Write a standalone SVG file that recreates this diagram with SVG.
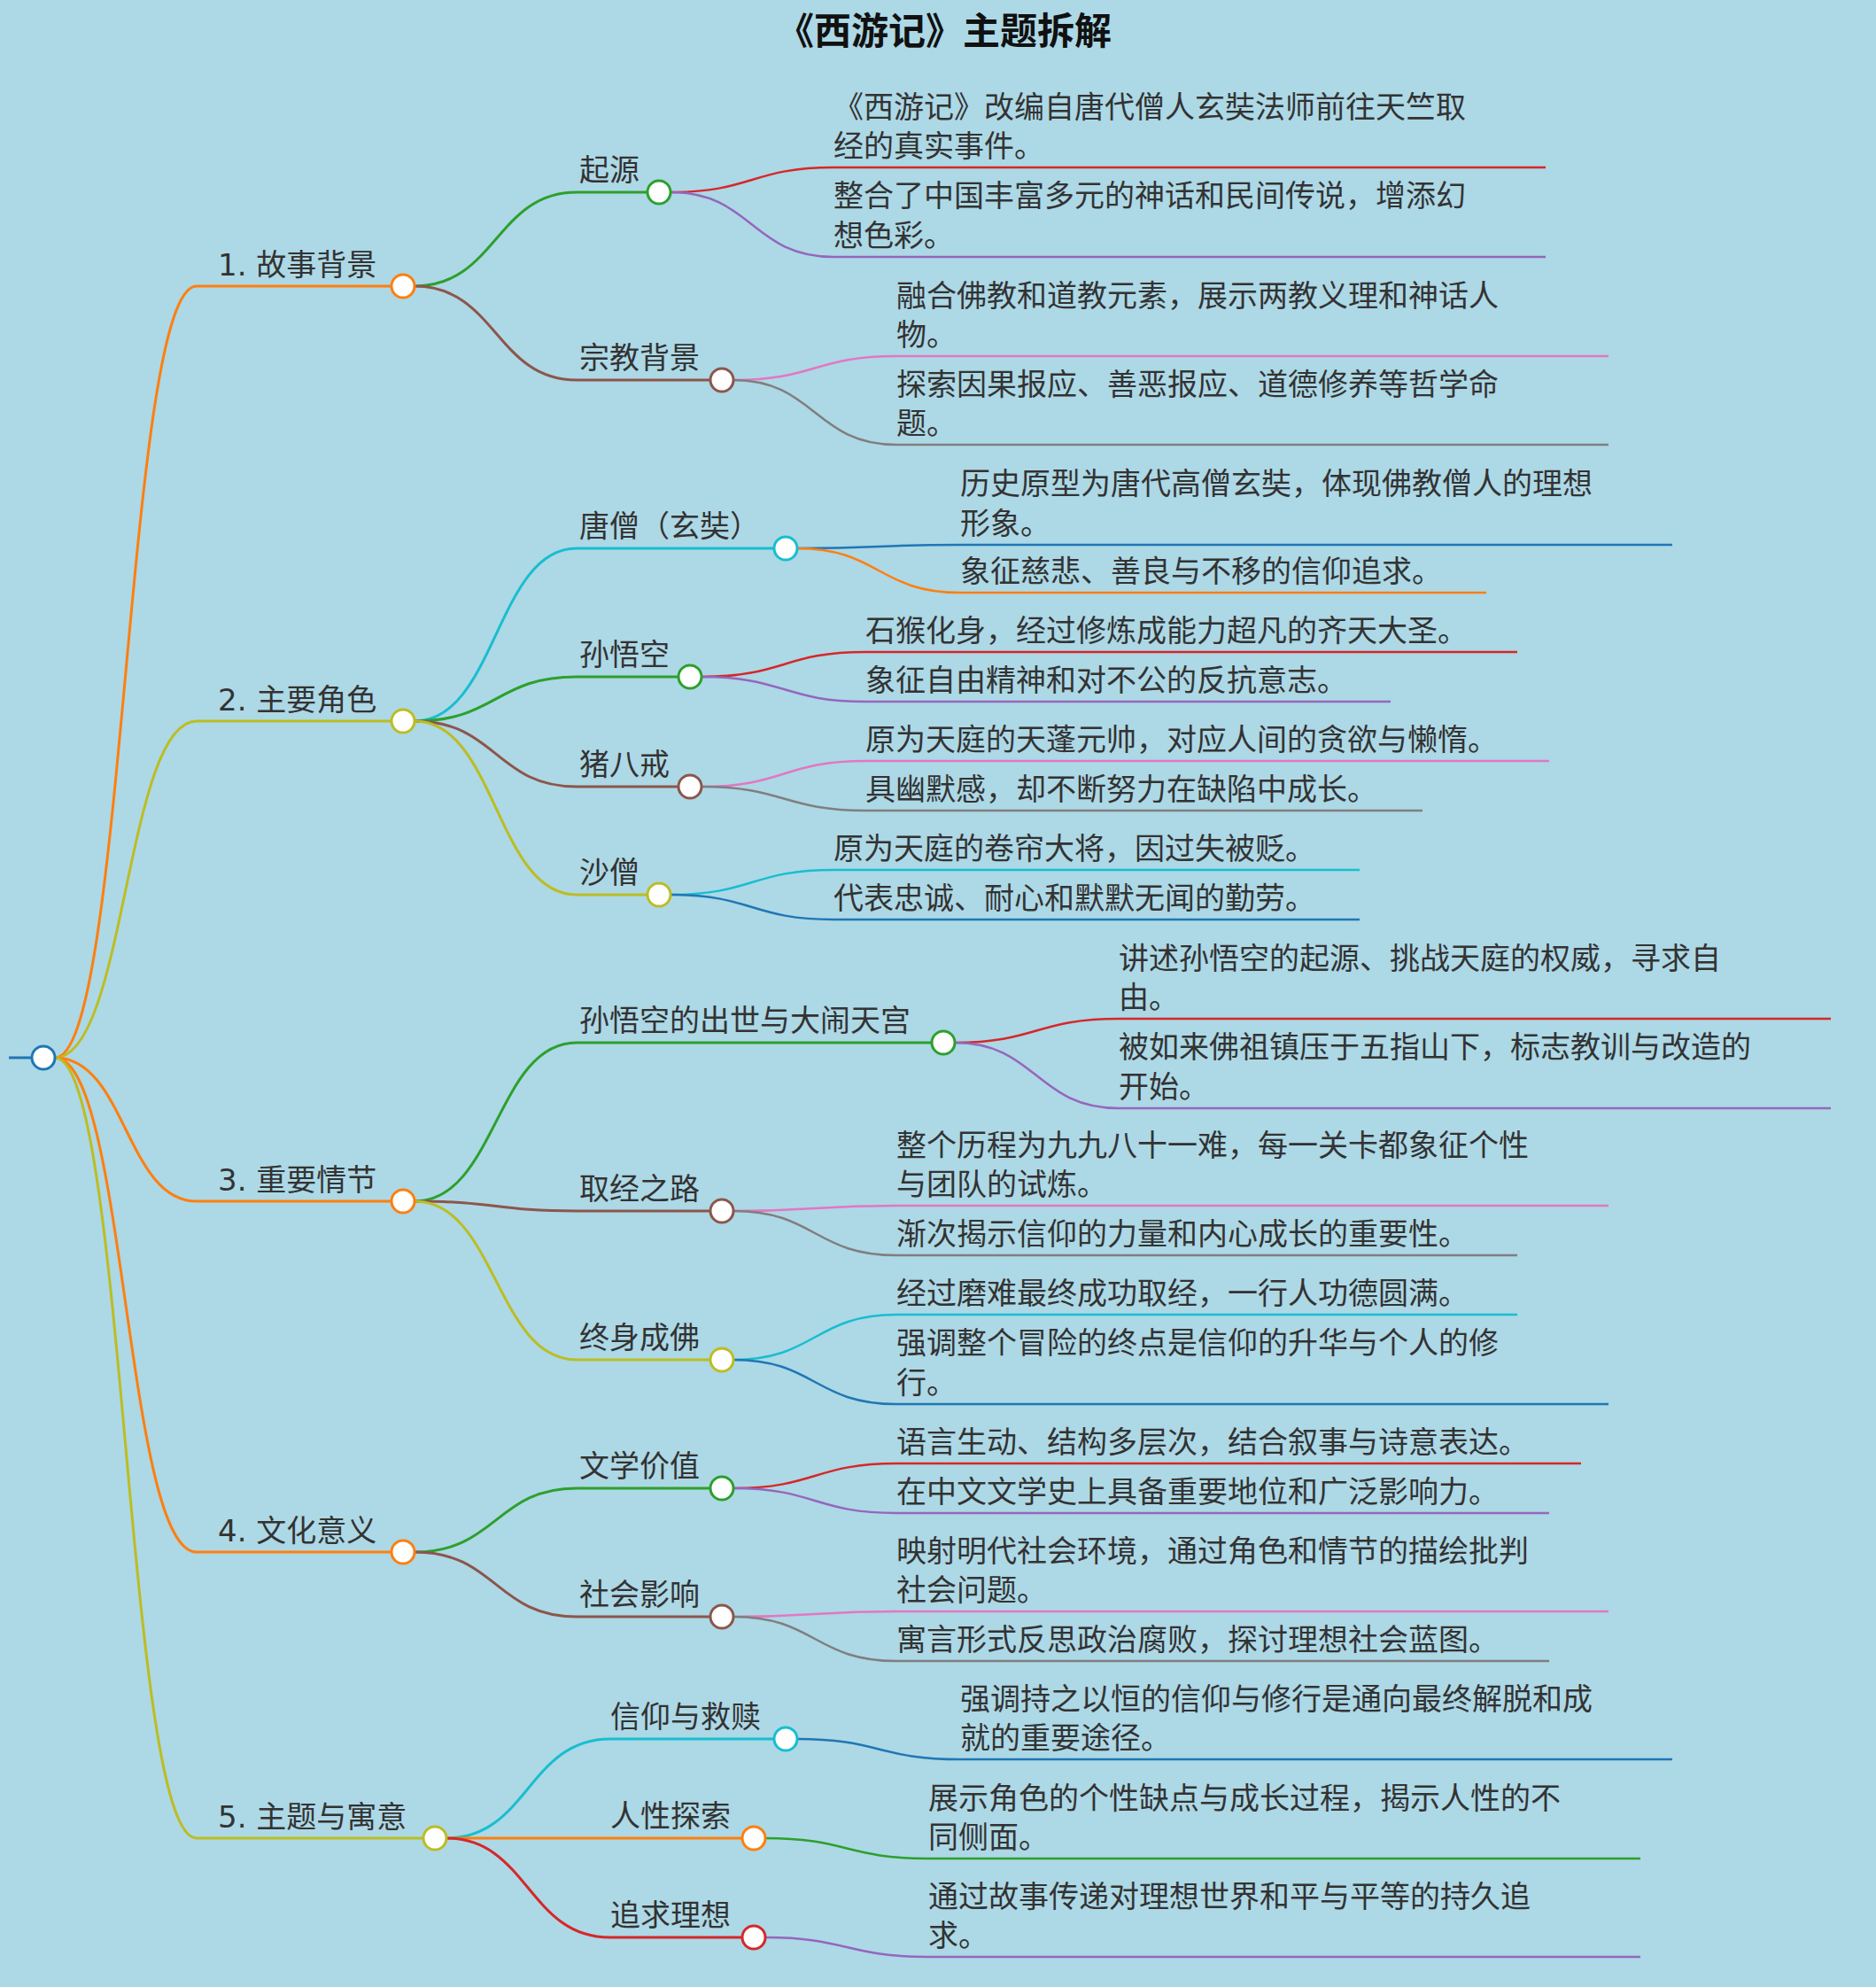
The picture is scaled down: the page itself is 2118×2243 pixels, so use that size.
<svg xmlns="http://www.w3.org/2000/svg" width="2118" height="2243" viewBox="0 0 2118 2243">
<style>
text{font-family:"DejaVu Sans","Noto Sans CJK SC",sans-serif;fill:#333;font-size:34px}
.t{font-size:42px;font-weight:bold;fill:#111}
path{fill:none;stroke-width:3}
.l{stroke-width:2.5}
circle{fill:#fff;stroke-width:3}
</style>
<rect width="2118" height="2243" fill="#add8e6"/>
<text class="t" x="1066" y="50" text-anchor="middle">《西游记》主题拆解</text>
<g id="connectors">
<path d="M10 1194H36" stroke="#1f77b4"/>
<path d="M62 1194C142 1194 142 323 222 323H442" stroke="#ff7f0e"/>
<path d="M62 1194C142 1194 142 814 222 814H442" stroke="#bcbd22"/>
<path d="M62 1194C142 1194 142 1356 222 1356H442" stroke="#ff7f0e"/>
<path d="M62 1194C142 1194 142 1752 222 1752H442" stroke="#ff7f0e"/>
<path d="M62 1194C142 1194 142 2075 222 2075H478" stroke="#bcbd22"/>
<path d="M468 323C560 323 560 217 651 217H731" stroke="#2ca02c"/>
<path d="M468 323C560 323 560 429 651 429H802" stroke="#8c564b"/>
<path d="M468 814C560 814 560 619 651 619H874" stroke="#17becf"/>
<path d="M468 814C560 814 560 764 651 764H766" stroke="#2ca02c"/>
<path d="M468 814C560 814 560 888 651 888H766" stroke="#8c564b"/>
<path d="M468 814C560 814 560 1010 651 1010H731" stroke="#bcbd22"/>
<path d="M468 1356C560 1356 560 1177 651 1177H1052" stroke="#2ca02c"/>
<path d="M468 1356C560 1356 560 1367 651 1367H802" stroke="#8c564b"/>
<path d="M468 1356C560 1356 560 1535 651 1535H802" stroke="#bcbd22"/>
<path d="M468 1752C560 1752 560 1680 651 1680H802" stroke="#2ca02c"/>
<path d="M468 1752C560 1752 560 1825 651 1825H802" stroke="#8c564b"/>
<path d="M504 2075C596 2075 596 1963 689 1963H874" stroke="#17becf"/>
<path d="M504 2075C596 2075 596 2075 689 2075H838" stroke="#ff7f0e"/>
<path d="M504 2075C596 2075 596 2187 689 2187H838" stroke="#d62728"/>
<path class="l" d="M757 217C849 217 849 189 941 189H1745" stroke="#d62728"/>
<path class="l" d="M757 217C849 217 849 290 941 290H1745" stroke="#9467bd"/>
<path class="l" d="M828 429C920 429 920 402 1012 402H1816" stroke="#e377c2"/>
<path class="l" d="M828 429C920 429 920 502 1012 502H1816" stroke="#7f7f7f"/>
<path class="l" d="M900 619C992 619 992 615 1084 615H1888" stroke="#1f77b4"/>
<path class="l" d="M900 619C992 619 992 669 1084 669H1678" stroke="#ff7f0e"/>
<path class="l" d="M792 764C885 764 885 736 977 736H1713" stroke="#d62728"/>
<path class="l" d="M792 764C885 764 885 792 977 792H1570" stroke="#9467bd"/>
<path class="l" d="M792 888C885 888 885 859 977 859H1749" stroke="#e377c2"/>
<path class="l" d="M792 888C885 888 885 915 977 915H1606" stroke="#7f7f7f"/>
<path class="l" d="M757 1010C849 1010 849 982 941 982H1535" stroke="#17becf"/>
<path class="l" d="M757 1010C849 1010 849 1038 941 1038H1535" stroke="#1f77b4"/>
<path class="l" d="M1078 1177C1170 1177 1170 1150 1263 1150H2067" stroke="#d62728"/>
<path class="l" d="M1078 1177C1170 1177 1170 1251 1263 1251H2067" stroke="#9467bd"/>
<path class="l" d="M828 1367C920 1367 920 1361 1012 1361H1816" stroke="#e377c2"/>
<path class="l" d="M828 1367C920 1367 920 1417 1012 1417H1713" stroke="#7f7f7f"/>
<path class="l" d="M828 1535C920 1535 920 1484 1012 1484H1713" stroke="#17becf"/>
<path class="l" d="M828 1535C920 1535 920 1585 1012 1585H1816" stroke="#1f77b4"/>
<path class="l" d="M828 1680C920 1680 920 1652 1012 1652H1785" stroke="#d62728"/>
<path class="l" d="M828 1680C920 1680 920 1708 1012 1708H1749" stroke="#9467bd"/>
<path class="l" d="M828 1825C920 1825 920 1819 1012 1819H1816" stroke="#e377c2"/>
<path class="l" d="M828 1825C920 1825 920 1875 1012 1875H1749" stroke="#7f7f7f"/>
<path class="l" d="M900 1963C992 1963 992 1986 1084 1986H1888" stroke="#1f77b4"/>
<path class="l" d="M864 2075C956 2075 956 2098 1048 2098H1852" stroke="#2ca02c"/>
<path class="l" d="M864 2187C956 2187 956 2209 1048 2209H1852" stroke="#9467bd"/>
</g>
<g id="root"><circle cx="49" cy="1194" r="13" stroke="#1f77b4"/></g>
<g id="n1"><text x="246" y="311">1. 故事背景</text><circle cx="455" cy="323" r="13" stroke="#ff7f0e"/></g>
<g id="n2"><text x="246" y="802">2. 主要角色</text><circle cx="455" cy="814" r="13" stroke="#bcbd22"/></g>
<g id="n3"><text x="246" y="1344">3. 重要情节</text><circle cx="455" cy="1356" r="13" stroke="#ff7f0e"/></g>
<g id="n4"><text x="246" y="1740">4. 文化意义</text><circle cx="455" cy="1752" r="13" stroke="#ff7f0e"/></g>
<g id="n5"><text x="246" y="2063">5. 主题与寓意</text><circle cx="491" cy="2075" r="13" stroke="#bcbd22"/></g>
<g id="n11"><text x="654" y="204">起源</text><circle cx="744" cy="217" r="13" stroke="#2ca02c"/></g>
<g id="n12"><text x="654" y="416">宗教背景</text><circle cx="815" cy="429" r="13" stroke="#8c564b"/></g>
<g id="n21"><text x="654" y="606">唐僧（玄奘）</text><circle cx="887" cy="619" r="13" stroke="#17becf"/></g>
<g id="n22"><text x="654" y="751">孙悟空</text><circle cx="779" cy="764" r="13" stroke="#2ca02c"/></g>
<g id="n23"><text x="654" y="875">猪八戒</text><circle cx="779" cy="888" r="13" stroke="#8c564b"/></g>
<g id="n24"><text x="654" y="997">沙僧</text><circle cx="744" cy="1010" r="13" stroke="#bcbd22"/></g>
<g id="n31"><text x="654" y="1164">孙悟空的出世与大闹天宫</text><circle cx="1065" cy="1177" r="13" stroke="#2ca02c"/></g>
<g id="n32"><text x="654" y="1354">取经之路</text><circle cx="815" cy="1367" r="13" stroke="#8c564b"/></g>
<g id="n33"><text x="654" y="1522">终身成佛</text><circle cx="815" cy="1535" r="13" stroke="#bcbd22"/></g>
<g id="n41"><text x="654" y="1667">文学价值</text><circle cx="815" cy="1680" r="13" stroke="#2ca02c"/></g>
<g id="n42"><text x="654" y="1812">社会影响</text><circle cx="815" cy="1825" r="13" stroke="#8c564b"/></g>
<g id="n51"><text x="689" y="1950">信仰与救赎</text><circle cx="887" cy="1963" r="13" stroke="#17becf"/></g>
<g id="n52"><text x="689" y="2062">人性探索</text><circle cx="851" cy="2075" r="13" stroke="#ff7f0e"/></g>
<g id="n53"><text x="689" y="2174">追求理想</text><circle cx="851" cy="2187" r="13" stroke="#d62728"/></g>
<g id="leaves">
<text x="941" y="133">《西游记》改编自唐代僧人玄奘法师前往天竺取</text><text x="941" y="177">经的真实事件。</text>
<text x="941" y="233">整合了中国丰富多元的神话和民间传说，增添幻</text><text x="941" y="278">想色彩。</text>
<text x="1012" y="346">融合佛教和道教元素，展示两教义理和神话人</text><text x="1012" y="390">物。</text>
<text x="1012" y="446">探索因果报应、善恶报应、道德修养等哲学命</text><text x="1012" y="490">题。</text>
<text x="1084" y="558">历史原型为唐代高僧玄奘，体现佛教僧人的理想</text><text x="1084" y="603">形象。</text>
<text x="1084" y="657">象征慈悲、善良与不移的信仰追求。</text>
<text x="977" y="724">石猴化身，经过修炼成能力超凡的齐天大圣。</text>
<text x="977" y="780">象征自由精神和对不公的反抗意志。</text>
<text x="977" y="847">原为天庭的天蓬元帅，对应人间的贪欲与懒惰。</text>
<text x="977" y="903">具幽默感，却不断努力在缺陷中成长。</text>
<text x="941" y="970">原为天庭的卷帘大将，因过失被贬。</text>
<text x="941" y="1026">代表忠诚、耐心和默默无闻的勤劳。</text>
<text x="1263" y="1094">讲述孙悟空的起源、挑战天庭的权威，寻求自</text><text x="1263" y="1138">由。</text>
<text x="1263" y="1194">被如来佛祖镇压于五指山下，标志教训与改造的</text><text x="1263" y="1239">开始。</text>
<text x="1012" y="1305">整个历程为九九八十一难，每一关卡都象征个性</text><text x="1012" y="1349">与团队的试炼。</text>
<text x="1012" y="1405">渐次揭示信仰的力量和内心成长的重要性。</text>
<text x="1012" y="1472">经过磨难最终成功取经，一行人功德圆满。</text>
<text x="1012" y="1528">强调整个冒险的终点是信仰的升华与个人的修</text><text x="1012" y="1573">行。</text>
<text x="1012" y="1640">语言生动、结构多层次，结合叙事与诗意表达。</text>
<text x="1012" y="1696">在中文文学史上具备重要地位和广泛影响力。</text>
<text x="1012" y="1763">映射明代社会环境，通过角色和情节的描绘批判</text><text x="1012" y="1807">社会问题。</text>
<text x="1012" y="1863">寓言形式反思政治腐败，探讨理想社会蓝图。</text>
<text x="1084" y="1930">强调持之以恒的信仰与修行是通向最终解脱和成</text><text x="1084" y="1974">就的重要途径。</text>
<text x="1048" y="2042">展示角色的个性缺点与成长过程，揭示人性的不</text><text x="1048" y="2086">同侧面。</text>
<text x="1048" y="2153">通过故事传递对理想世界和平与平等的持久追</text><text x="1048" y="2197">求。</text>
</g>
</svg>
